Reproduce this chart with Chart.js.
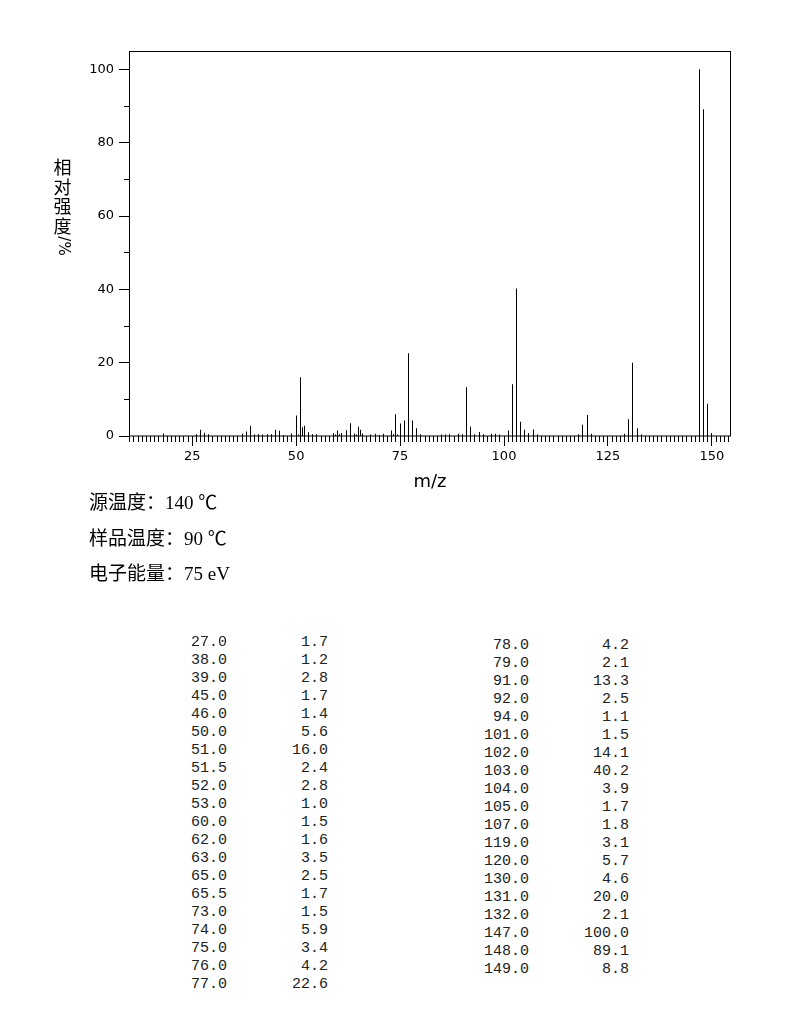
<!DOCTYPE html>
<html><head><meta charset="utf-8">
<script src="https://cdn.jsdelivr.net/npm/chart.js@4.4.0/dist/chart.umd.min.js"></script>
<style>
html,body{margin:0;padding:0;background:#fff;}
body{width:794px;height:1020px;position:relative;overflow:hidden;}
#c{position:absolute;left:0;top:0;}
.info{position:absolute;left:89px;font-size:19px;line-height:22px;font-family:"Liberation Serif","Noto Sans CJK SC",serif;color:#000;white-space:pre;}
.cell{position:absolute;width:90px;font-size:15px;line-height:18px;font-family:"Liberation Mono",monospace;color:#222;text-align:right;white-space:pre;}
</style></head><body>
<canvas id="c" width="794" height="500"></canvas>
<div id="info"></div>
<div id="tbl"></div>
<script>
// ---- data ----
const tableMz  = [27,38,39,45,46,50,51,51.5,52,53,60,62,63,65,65.5,73,74,75,76,77,
                  78,79,91,92,94,101,102,103,104,105,107,119,120,130,131,132,147,148,149];
const tableInt = [1.7,1.2,2.8,1.7,1.4,5.6,16.0,2.4,2.8,1.0,1.5,1.6,3.5,2.5,1.7,1.5,5.9,3.4,4.2,22.6,
                  4.2,2.1,13.3,2.5,1.1,1.5,14.1,40.2,3.9,1.7,1.8,3.1,5.7,4.6,20.0,2.1,100.0,89.1,8.8];
// small unlisted peaks (<1 %) estimated from the plot
const minorMz  = [18,26,28,29,37,40,41,42,43,44,47,49,50.5,54,55,59,59.5,60.5,61,64,64.5,66,68,69,70,71,
                  73.5,74.5,80,85,86,87,89,90,93,95,97,98,99,106,108,118,121,129,133,150];
const minorInt = [0.7,0.5,0.9,0.5,0.6,0.4,0.5,0.4,0.5,0.5,0.3,0.7,0.4,0.5,0.5,0.8,0.4,0.5,0.8,0.7,0.4,0.7,0.4,0.6,0.3,0.6,
                  0.5,0.4,0.5,0.4,0.4,0.5,0.6,0.5,0.5,0.5,0.6,0.6,0.4,0.8,0.4,0.5,0.6,0.6,0.4,0.8];
const xTicks = [25,50,75,100,125,150];
const yTicks = [0,20,40,60,80,100];
const xMin = 9.8, xMax = 154.6, yMin = 0, yMax = 105;
const xTitle = 'm/z';
const yTitleChars = ['相','对','强','度'];
const yTitleUnit = '/%';
const infoLines = ['源温度：140 ℃','样品温度：90 ℃','电子能量：75 eV'];
const leftRows = 20;

// ---- info text ----
const infoEl = document.getElementById('info');
infoLines.forEach((t,i)=>{
  const d=document.createElement('div'); d.className='info';
  d.style.top=(492 + i*35.5)+'px'; d.textContent=t; infoEl.appendChild(d);
});
// ---- table ----
const tbl = document.getElementById('tbl');
tableMz.forEach((m,i)=>{
  const col = i < leftRows ? 0 : 1;
  const row = col===0 ? i : i-leftRows;
  const top = (col===0 ? 634 : 637) + row*18;
  const mzRight = col===0 ? 227 : 529;
  const vRight  = col===0 ? 328 : 629;
  const a=document.createElement('div'); a.className='cell';
  a.style.left=(mzRight-90)+'px'; a.style.top=top+'px'; a.textContent=m.toFixed(1); tbl.appendChild(a);
  const b=document.createElement('div'); b.className='cell';
  b.style.left=(vRight-90)+'px'; b.style.top=top+'px'; b.textContent=tableInt[i].toFixed(1); tbl.appendChild(b);
});

// ---- chart ----
const peaks = tableMz.map((m,i)=>({x:m,y:tableInt[i]}))
  .concat(minorMz.map((m,i)=>({x:m,y:minorInt[i]})));

const framePlugin = {
  id:'frame',
  beforeDatasetsDraw(chart){
    const meta = chart.getDatasetMeta(0);
    meta.data.forEach(b=>{ b.x = Math.floor(b.x)+0.5; });
  },
  afterDraw(chart){
    const {ctx, chartArea:a, scales:{x,y}} = chart;
    ctx.save();
    ctx.strokeStyle='#000'; ctx.lineWidth=1;
    ctx.strokeRect(a.left+0.5, a.top+0.5, a.right-a.left-1, a.bottom-a.top-0.5);
    ctx.beginPath();
    for(let v=Math.ceil(xMin); v<=Math.floor(xMax); v++){
      const px=Math.floor(x.getPixelForValue(v))+0.5;
      ctx.moveTo(px,a.bottom); ctx.lineTo(px,a.bottom+(v%25===0?10:6));
    }
    for(let v=yMin; v<=100; v+=10){
      const py=Math.floor(y.getPixelForValue(v))+0.5;
      ctx.moveTo(a.left,py); ctx.lineTo(a.left-(v%20===0?10:5),py);
    }
    ctx.stroke();
    // vertical y title
    ctx.fillStyle='#000';
    ctx.textAlign='center'; ctx.textBaseline='middle';
    ctx.font='18px "Noto Sans CJK SC"';
    yTitleChars.forEach((c,i)=>ctx.fillText(c, 62.5, 167 + i*19.7));
    ctx.translate(62.5, 246); ctx.rotate(Math.PI/2);
    ctx.font='15px "DejaVu Sans"';
    ctx.fillText(yTitleUnit,0,0);
    ctx.restore();
  }
};

new Chart(document.getElementById('c'), {
  type:'bar',
  data:{datasets:[{data:peaks, backgroundColor:'#000', borderWidth:0, barThickness:1, inflateAmount:0, grouped:false}]},
  options:{
    responsive:false, animation:false, devicePixelRatio:1,
    layout:{padding:{left:0,right:63,top:51,bottom:0}},
    plugins:{legend:{display:false}, tooltip:{enabled:false}},
    scales:{
      x:{type:'linear', min:xMin, max:xMax, offset:false,
         grid:{display:false, drawTicks:false, offset:false}, border:{display:false},
         afterBuildTicks:s=>{ s.ticks = xTicks.map(v=>({value:v})); },
         afterFit:s=>{ s.height = 64; },
         ticks:{padding:13, color:'#000', font:{family:'DejaVu Sans', size:13}, maxRotation:0, autoSkip:false, callback:v=>String(v)},
         title:{display:true, text:xTitle, color:'#000', font:{family:'DejaVu Sans', size:18}, padding:{top:0,bottom:7}}
      },
      y:{type:'linear', min:yMin, max:yMax,
         grid:{display:false, drawTicks:false}, border:{display:false},
         afterBuildTicks:s=>{ s.ticks = yTicks.map(v=>({value:v})); },
         afterFit:s=>{ s.width = 129; },
         ticks:{padding:15, color:'#000', font:{family:'DejaVu Sans', size:13}, autoSkip:false, callback:v=>String(v)}
      }
    }
  },
  plugins:[framePlugin]
});
</script>
</body></html>
